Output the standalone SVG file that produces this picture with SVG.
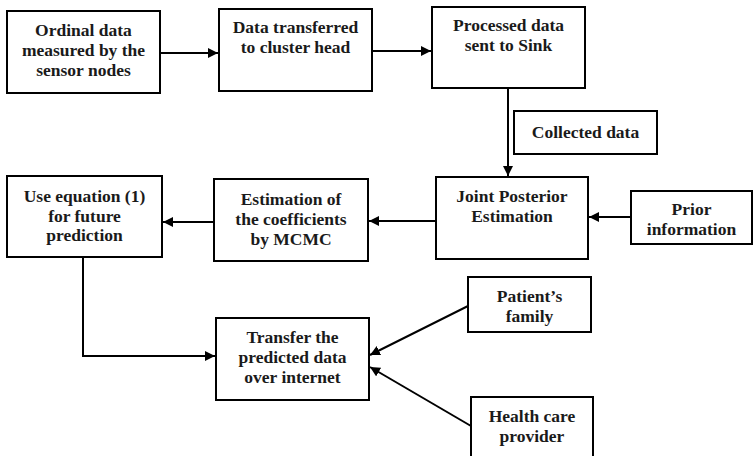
<svg xmlns="http://www.w3.org/2000/svg" width="753" height="456" viewBox="0 0 753 456">
<defs>
<style>
.box{fill:#fff;stroke:#000;stroke-width:2}
.t{font-family:'Liberation Serif','Times New Roman',serif;font-weight:700;font-size:17.5px;fill:#1a1a1a;text-anchor:middle}
.c{fill:none;stroke:#000;stroke-width:2}
</style>
<marker id="ah" viewBox="0 0 10 10" refX="10" refY="5" markerWidth="5" markerHeight="5" orient="auto" markerUnits="strokeWidth">
<path d="M0,0 L10,5 L0,10 z" fill="#000"/>
</marker>
</defs>
<rect width="753" height="456" fill="#fff"/>
<g id="connectors">
<line class="c" x1="160" y1="53" x2="218" y2="53" marker-end="url(#ah)"/>
<line class="c" x1="372" y1="51" x2="431" y2="51" marker-end="url(#ah)"/>
<line class="c" x1="508" y1="88" x2="508" y2="176" marker-end="url(#ah)"/>
<line class="c" x1="631" y1="217" x2="589" y2="217" marker-end="url(#ah)"/>
<line class="c" x1="436" y1="221" x2="369" y2="221" marker-end="url(#ah)"/>
<line class="c" x1="214" y1="222" x2="163" y2="222" marker-end="url(#ah)"/>
<polyline class="c" points="83,257 83,356 215,356" marker-end="url(#ah)"/>
<line class="c" x1="468" y1="306" x2="370" y2="355" marker-end="url(#ah)"/>
<line class="c" x1="471" y1="426" x2="370" y2="367" marker-end="url(#ah)"/>
</g>
<g id="n1">
<rect class="box" x="7" y="11" width="153" height="82"/>
<text class="t" x="83.5" y="36">Ordinal data</text>
<text class="t" x="83.5" y="56">measured by the</text>
<text class="t" x="83.5" y="76">sensor nodes</text>
</g>
<g id="n2">
<rect class="box" x="219" y="9" width="153" height="82"/>
<text class="t" x="295.5" y="33">Data transferred</text>
<text class="t" x="295.5" y="53">to cluster head</text>
</g>
<g id="n3">
<rect class="box" x="432" y="7" width="153" height="81"/>
<text class="t" x="508.5" y="31">Processed data</text>
<text class="t" x="508.5" y="51">sent to Sink</text>
</g>
<g id="n4">
<rect class="box" x="514" y="111" width="143" height="43"/>
<text class="t" x="585.5" y="138">Collected data</text>
</g>
<g id="n5">
<rect class="box" x="436" y="177" width="152" height="82"/>
<text class="t" x="512" y="202">Joint Posterior</text>
<text class="t" x="512" y="222">Estimation</text>
</g>
<g id="n6">
<rect class="box" x="631" y="191" width="121" height="53"/>
<text class="t" x="691.5" y="215">Prior</text>
<text class="t" x="691.5" y="235">information</text>
</g>
<g id="n7">
<rect class="box" x="214" y="179" width="154" height="82"/>
<text class="t" x="291" y="205">Estimation of</text>
<text class="t" x="291" y="225">the coefficients</text>
<text class="t" x="291" y="245">by MCMC</text>
</g>
<g id="n8">
<rect class="box" x="7" y="176" width="155" height="81"/>
<text class="t" x="84.5" y="202">Use equation (1)</text>
<text class="t" x="84.5" y="222">for future</text>
<text class="t" x="84.5" y="241">prediction</text>
</g>
<g id="n9">
<rect class="box" x="216" y="318" width="153" height="82"/>
<text class="t" x="292.5" y="343">Transfer the</text>
<text class="t" x="292.5" y="363">predicted data</text>
<text class="t" x="292.5" y="383">over internet</text>
</g>
<g id="n10">
<rect class="box" x="468" y="277" width="123" height="55"/>
<text class="t" x="529.5" y="302">Patient’s</text>
<text class="t" x="529.5" y="322">family</text>
</g>
<g id="n11">
<rect class="box" x="471" y="397" width="122" height="62"/>
<text class="t" x="532" y="422">Health care</text>
<text class="t" x="532" y="442">provider</text>
</g>
</svg>
